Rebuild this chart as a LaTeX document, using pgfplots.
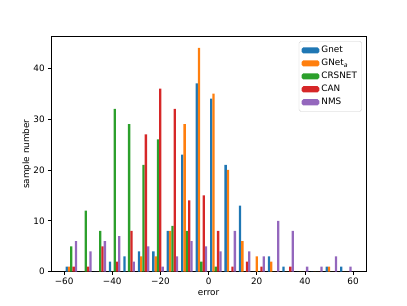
\documentclass[border=0pt]{standalone}
\usepackage{pgfplots}
\pgfplotsset{compat=1.18}
\usepackage{pgfplotstable}
\usepackage{fontspec}
\setmainfont{DejaVu Sans}
\definecolor{c0}{HTML}{1F77B4}
\definecolor{c1}{HTML}{FF7F0E}
\definecolor{c2}{HTML}{2CA02C}
\definecolor{c3}{HTML}{D62728}
\definecolor{c4}{HTML}{9467BD}
\pgfplotstableread{
c   b  o  g  r  p
-57 1  1  5  1  6
-51 0  0  12 1  4
-45 0  0  8  5  6
-39 2  0  32 2  7
-33 3  0  29 8  2
-27 4  3  21 27 5
-21 4  3  26 36 1
-15 8  8  9  32 3
-9  23 29 8  14 6
-3  37 44 2  15 5
3   34 35 1  8  4
9   21 20 0  1  8
15  13 6  0  2  4
21  0  3  0  1  3
27  3  2  0  0  10
33  1  0  0  1  8
39  0  0  0  0  1
45  0  0  0  0  1
51  1  1  0  0  3
57  1  0  0  0  1
}\hist
\pgfplotsset{mybar/.style={ybar, bar width=0.96, bar shift=0pt, draw=none, fill=#1,
  legend image code/.code={\fill[#1] (0pt,-3.5pt) rectangle (20pt,3.5pt);}}}
\begin{document}
\begin{tikzpicture}
\path[use as bounding box] (-57.6pt,-38.0pt) rectangle (403.2pt,307.6pt);
\begin{axis}[at={(0pt,0pt)}, anchor=south west, scale only axis,
  width=357.1pt, height=266.1pt,
  xmin=-65.5, xmax=65.5, ymin=0, ymax=46.2,
  xtick={-60,-40,...,60}, xticklabels={−60,−40,−20,0,20,40,60},
  ytick={0,10,...,40},
  tick align=outside, xtick pos=bottom, ytick pos=left, major tick length=3.5pt,
  every tick/.style={black, line width=0.8pt},
  axis line style={line width=0.8pt},
  tick label style={font=\fontsize{10}{12}\selectfont},
  label style={font=\fontsize{10}{12}\selectfont},
  xlabel={error}, ylabel={sample number}, ylabel shift=-4pt,
  /pgf/number format/assume math mode=true,
  legend cell align=left,
  legend style={at={(1,1)}, xshift=-5pt, yshift=-5pt, anchor=north east,
    draw=black!20, rounded corners=2pt, font=\fontsize{10}{12}\selectfont,
    row sep=0pt, inner sep=3pt,
    nodes={text height=7.8pt, text depth=2.1pt, inner sep=2.4pt}},
]
\addplot[mybar=c0] table[x expr=\thisrow{c}-1.92, y=b] {\hist};
\addplot[mybar=c1] table[x expr=\thisrow{c}-0.96, y=o] {\hist};
\addplot[mybar=c2] table[x=c, y=g] {\hist};
\addplot[mybar=c3] table[x expr=\thisrow{c}+0.96, y=r] {\hist};
\addplot[mybar=c4] table[x expr=\thisrow{c}+1.92, y=p] {\hist};
\legend{Gnet, GNet\textsubscript{\textit{a}}, CRSNET, CAN, NMS}
\end{axis}
\end{tikzpicture}
\end{document}
